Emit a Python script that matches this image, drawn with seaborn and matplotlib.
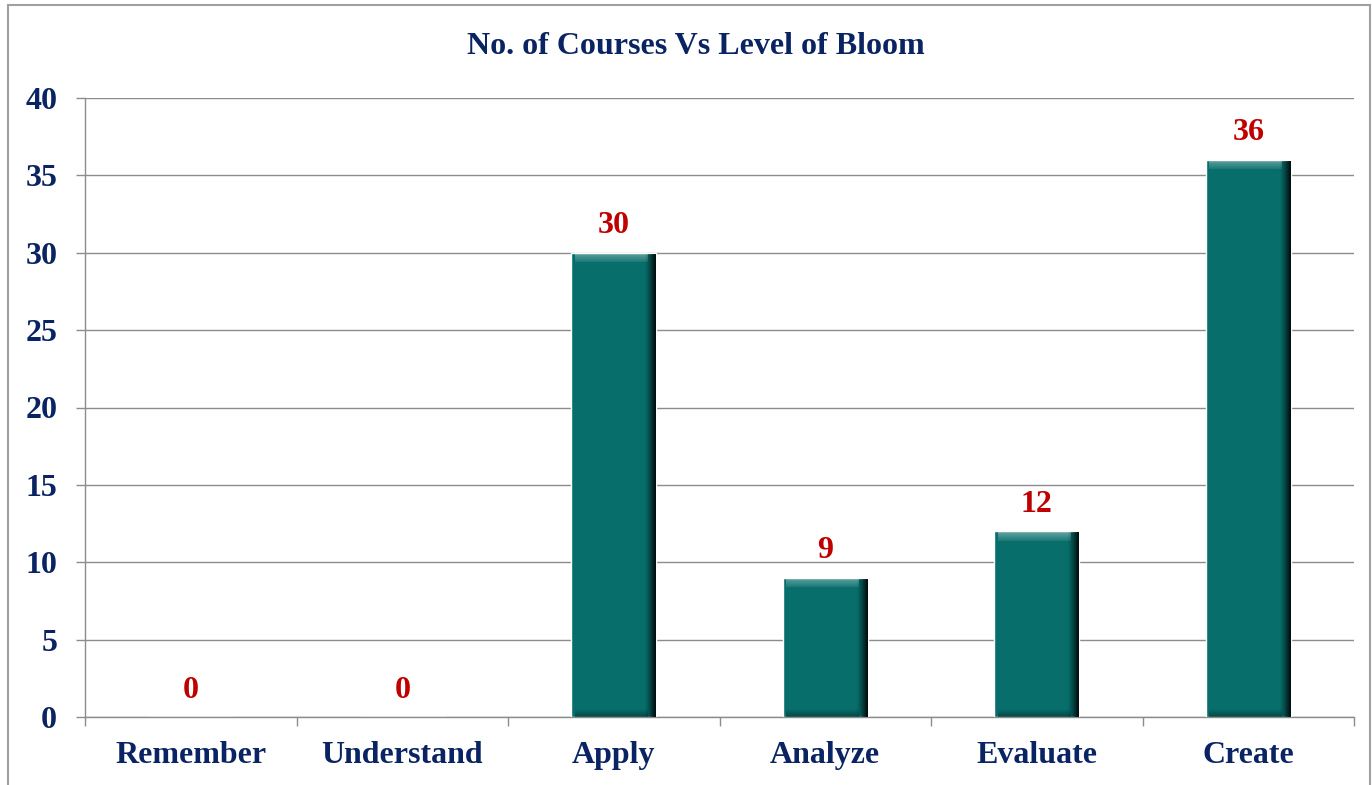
import numpy as np
import pandas as pd
import seaborn as sns
import matplotlib.pyplot as plt
from matplotlib.patches import Rectangle

levels = ["Remember", "Understand", "Apply", "Analyze", "Evaluate", "Create"]
courses = [0, 0, 30, 9, 12, 36]
y_ticks = [0, 5, 10, 15, 20, 25, 30, 35, 40]

navy = "#0A2463"
red = "#C00000"
teal = "#076E6B"
grid = "#8C8C8C"

df = pd.DataFrame({"level": levels, "courses": courses})

sns.set_style("white")
plt.rcParams["font.family"] = ["Liberation Serif", "DejaVu Serif"]
plt.rcParams["font.weight"] = "bold"

fig = plt.figure(figsize=(13.72, 7.85), dpi=100)
ax = fig.add_axes([85 / 1372, 68 / 785, 1269 / 1372, 619 / 785])

sns.barplot(data=df, x="level", y="courses", color=teal, saturation=1,
            width=0.40, ax=ax, zorder=3)

# bevel-ish shading on each bar
for bar in ax.patches:
    x0, w, h = bar.get_x(), bar.get_width(), bar.get_height()
    if h <= 0:
        continue
    grad = np.linspace(0, 1, 80)
    shade = np.clip((grad - 0.87) / 0.13, 0, 1) ** 1.3
    img = np.zeros((1, 80, 4))
    img[..., 3] = shade * 0.9
    ax.imshow(img, extent=[x0, x0 + w, 0, h - 0.1], aspect="auto", zorder=5,
              interpolation="bilinear")
    top = np.zeros((30, 1, 4))
    top[..., :3] = 1
    top[..., 3] = np.linspace(0.4, 0.08, 30)[:, None]
    ax.imshow(top, extent=[x0 + w * 0.04, x0 + w * 0.9, h - 0.6, h],
              aspect="auto", zorder=4, interpolation="bilinear",
              origin="upper")
    bot = np.zeros((30, 1, 4))
    bot[..., 3] = np.linspace(0.0, 0.35, 30)[:, None]
    ax.imshow(bot, extent=[x0 + w * 0.04, x0 + w * 0.9, 0, 0.5],
              aspect="auto", zorder=4, interpolation="bilinear",
              origin="upper")

ax.set_xlim(-0.5, len(levels) - 0.5)
ax.set_ylim(0, 40)
ax.set_yticks(y_ticks)
ax.yaxis.grid(True, color=grid, lw=1)
ax.set_axisbelow(True)

ax.bar_label(ax.containers[0], labels=[str(v) for v in courses],
             padding=9, color=red, fontsize=23, fontweight="bold")

ax.set_xlabel("")
ax.set_ylabel("")
ax.set_xticks(np.arange(-0.5, len(levels), 1))
ax.set_xticklabels([])
ax.set_xticks(range(len(levels)), minor=True)
ax.set_xticklabels(levels, minor=True)
ax.tick_params(axis="x", which="major", length=6.5, width=1, color=grid,
               direction="out", bottom=True)
ax.tick_params(axis="x", which="minor", length=0, pad=17, labelsize=23,
               labelcolor=navy)
ax.tick_params(axis="y", length=6.5, width=1, color=grid, direction="out",
               left=True, pad=13.5, labelsize=23, labelcolor=navy)
for lab in ax.get_xticklabels(minor=True) + ax.get_yticklabels():
    lab.set_fontweight("bold")

for side in ["top", "right"]:
    ax.spines[side].set_visible(False)
for side in ["left", "bottom"]:
    ax.spines[side].set_color(grid)
    ax.spines[side].set_linewidth(1)

fig.text(696 / 1372, 1 - 46 / 785, "No. of Courses Vs Level of Bloom",
         ha="center", va="center", fontsize=23, fontweight="bold", color=navy)

fig.patches.append(Rectangle((8 / 1372, -0.01), 1 - 10 / 1372, 1 - 5 / 785 + 0.01,
                             transform=fig.transFigure, fill=False,
                             edgecolor="#A0A0A0", lw=1.5))

fig.savefig("out.png", dpi=100)
